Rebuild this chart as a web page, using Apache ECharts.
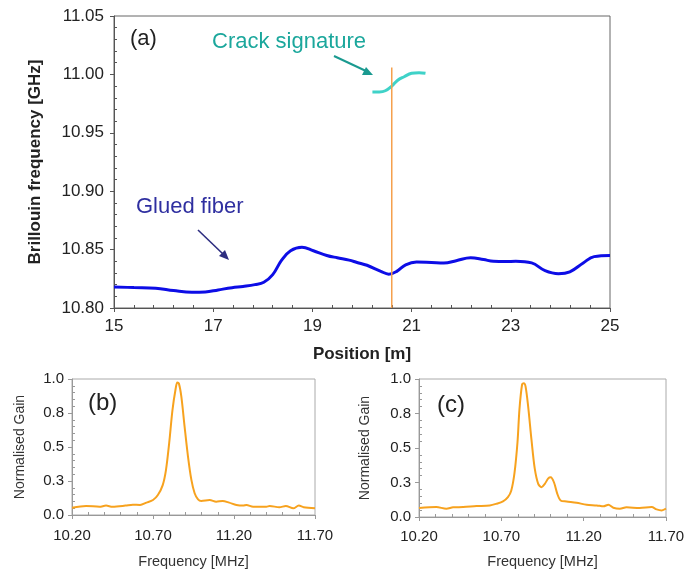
<!DOCTYPE html>
<html>
<head>
    <meta charset="utf-8">
    <title>Brillouin frequency</title>
    <script src="https://cdn.jsdelivr.net/npm/echarts@6/dist/echarts.min.js"></script>
</head>
<body style="margin:0;background:#fff">
    <div id="main" style="width: 700px;height:574px;"></div>
    <script type="text/javascript">
        var myChart = echarts.init(document.getElementById('main'));

// (a) Brillouin frequency along the fibre
var gluedPos  = [15.0, 15.4, 15.84, 16.2, 16.57, 16.84, 17.1, 17.38, 17.6, 17.84, 18.02, 18.2, 18.38, 18.56, 18.79, 19.02, 19.29, 19.5, 19.74, 19.9, 20.1, 20.38, 20.54, 20.7, 20.88, 21.1, 21.4, 21.65, 21.9, 22.19, 22.45, 22.65, 22.9, 23.1, 23.42, 23.69, 23.96, 24.19, 24.46, 24.68, 25.0];
var gluedFreq = [10.818, 10.8175, 10.817, 10.815, 10.8135, 10.8137, 10.8155, 10.8174, 10.8185, 10.820, 10.822, 10.8286, 10.841, 10.849, 10.852, 10.849, 10.845, 10.843, 10.841, 10.839, 10.8366, 10.8314, 10.829, 10.8314, 10.837, 10.8394, 10.839, 10.8386, 10.8405, 10.843, 10.8415, 10.840, 10.8398, 10.840, 10.8386, 10.832, 10.8294, 10.831, 10.8386, 10.844, 10.845];
var crackPos  = [20.21, 20.35, 20.47, 20.6, 20.72, 20.85, 21.0, 21.15, 21.28];
var crackFreq = [10.985, 10.985, 10.986, 10.990, 10.995, 10.998, 11.001, 11.0015, 11.001];
var markerPos = 20.6;

// (b) and (c) gain spectra
var freqB = [10.20, 10.287, 10.37, 10.41, 10.45, 10.53, 10.575, 10.62, 10.66, 10.70, 10.73, 10.76, 10.78, 10.80, 10.82, 10.84, 10.85, 10.86, 10.875, 10.895, 10.916, 10.937, 10.957, 10.978, 10.998, 11.05, 11.09, 11.13, 11.17, 11.215, 11.256, 11.277, 11.318, 11.40, 11.42, 11.48, 11.52, 11.566, 11.60, 11.63, 11.70];
var gainB = [0.054, 0.066, 0.061, 0.069, 0.061, 0.069, 0.076, 0.074, 0.091, 0.11, 0.147, 0.22, 0.33, 0.53, 0.77, 0.93, 0.975, 0.966, 0.87, 0.65, 0.43, 0.258, 0.16, 0.115, 0.103, 0.11, 0.098, 0.103, 0.091, 0.074, 0.069, 0.074, 0.061, 0.061, 0.066, 0.057, 0.066, 0.049, 0.069, 0.057, 0.049];
var freqC = [10.20, 10.305, 10.366, 10.407, 10.468, 10.549, 10.63, 10.67, 10.71, 10.74, 10.76, 10.78, 10.798, 10.81, 10.826, 10.836, 10.847, 10.863, 10.883, 10.903, 10.924, 10.944, 10.964, 10.985, 11.0, 11.02, 11.04, 11.06, 11.096, 11.157, 11.218, 11.28, 11.32, 11.35, 11.38, 11.42, 11.46, 11.54, 11.613, 11.643, 11.674, 11.70];
var gainC = [0.065, 0.072, 0.06, 0.07, 0.072, 0.079, 0.084, 0.096, 0.113, 0.144, 0.19, 0.32, 0.54, 0.78, 0.96, 0.97, 0.947, 0.80, 0.56, 0.35, 0.24, 0.216, 0.24, 0.28, 0.288, 0.25, 0.168, 0.12, 0.113, 0.103, 0.089, 0.084, 0.077, 0.089, 0.067, 0.06, 0.07, 0.065, 0.072, 0.055, 0.048, 0.06];

function zip(xs, ys) {
    return xs.map(function (x, i) { return [x, ys[i]]; });
}

var FONT = 'Liberation Sans, Arial, sans-serif';

// main axis (labels, outside major ticks) + overlay axis (inside minor ticks)
function mainAxis(grid, pos, min, max, interval, digits, size, margin, color, name, nameOpt) {
    return Object.assign({
        type: 'value', gridIndex: grid, position: pos, min: min, max: max, interval: interval,
        name: name, nameLocation: 'middle',
        axisLine: { lineStyle: { color: color } },
        axisTick: { inside: false, length: 4, lineStyle: { color: color } },
        splitLine: { show: false },
        axisLabel: {
            fontFamily: FONT, fontSize: size, color: '#222', margin: margin,
            formatter: function (v) { return v.toFixed(digits); }
        }
    }, nameOpt);
}
function minorAxis(grid, pos, min, max, interval, color) {
    return {
        type: 'value', gridIndex: grid, position: pos, min: min, max: max, interval: interval,
        axisLine: { show: false },
        axisTick: { show: false, inside: true },
        axisLabel: { show: false },
        splitLine: { show: false },
        minorTick: { show: true, splitNumber: 5, length: 3, lineStyle: { color: color } }
    };
}

option = {
    backgroundColor: '#fff',
    animation: false,
    grid: [
        { left: 114, right: 90, top: 16, bottom: 266, show: true, borderColor: '#666', borderWidth: 1 },
        { left: 72, width: 243, top: 379, height: 136, show: true, borderColor: '#aaa', borderWidth: 1 },
        { left: 419, width: 247, top: 379, height: 138, show: true, borderColor: '#aaa', borderWidth: 1 }
    ],
    xAxis: [
        mainAxis(0, 'bottom', 15, 25, 2, 0, 17, 10, '#555', 'Position [m]', {
            nameGap: 38, nameTextStyle: { fontFamily: FONT, fontSize: 17, fontWeight: 'bold', color: '#222' }
        }),
        minorAxis(0, 'bottom', 15, 25, 2, '#555'),
        mainAxis(1, 'bottom', 10.2, 11.7, 0.5, 2, 15, 13, '#999', 'Frequency [MHz]', {
            nameGap: 39, nameTextStyle: { fontFamily: FONT, fontSize: 14.5, color: '#333' }
        }),
        minorAxis(1, 'bottom', 10.2, 11.7, 0.5, '#999'),
        mainAxis(2, 'bottom', 10.2, 11.7, 0.5, 2, 15, 12, '#999', 'Frequency [MHz]', {
            nameGap: 37, nameTextStyle: { fontFamily: FONT, fontSize: 14.5, color: '#333' }
        }),
        minorAxis(2, 'bottom', 10.2, 11.7, 0.5, '#999')
    ],
    yAxis: [
        mainAxis(0, 'left', 10.8, 11.05, 0.05, 2, 17, 10, '#555', 'Brillouin frequency [GHz]', {
            nameGap: 70, nameTextStyle: { fontFamily: FONT, fontSize: 17, fontWeight: 'bold', color: '#222' }
        }),
        minorAxis(0, 'left', 10.8, 11.05, 0.05, '#555'),
        mainAxis(1, 'left', 0, 1, 0.25, 1, 15, 8, '#999', 'Normalised Gain', {
            nameGap: 45, nameTextStyle: { fontFamily: FONT, fontSize: 14, color: '#333' }
        }),
        minorAxis(1, 'left', 0, 1, 0.25, '#999'),
        mainAxis(2, 'left', 0, 1, 0.25, 1, 15, 8, '#999', 'Normalised Gain', {
            nameGap: 47, nameTextStyle: { fontFamily: FONT, fontSize: 14, color: '#333' }
        }),
        minorAxis(2, 'left', 0, 1, 0.25, '#999')
    ],
    graphic: [
        { type: 'text', left: 130, top: 28, style: { text: '(a)', font: '22px ' + FONT, fill: '#222' } },
        { type: 'text', left: 88, top: 391, style: { text: '(b)', font: '24px ' + FONT, fill: '#222' } },
        { type: 'text', left: 437, top: 393, style: { text: '(c)', font: '24px ' + FONT, fill: '#222' } },
        { type: 'text', left: 212, top: 31, style: { text: 'Crack signature', font: '22px ' + FONT, fill: '#1ba79c' } },
        { type: 'text', left: 136, top: 196, style: { text: 'Glued fiber', font: '22px ' + FONT, fill: '#2f2fa0' } },
        { type: 'line', shape: { x1: 334, y1: 56, x2: 366, y2: 71 }, style: { stroke: '#1a9a90', lineWidth: 2 } },
        { type: 'polygon', shape: { points: [[373, 75], [362, 75], [366, 67]] }, style: { fill: '#1a9a90' } },
        { type: 'line', shape: { x1: 198, y1: 230, x2: 223, y2: 254 }, style: { stroke: '#2d2d80', lineWidth: 1.6 } },
        { type: 'polygon', shape: { points: [[229, 260], [219, 256], [225, 250]] }, style: { fill: '#2d2d80' } }
    ],
    series: [{
        type: 'line', xAxisIndex: 0, yAxisIndex: 0, smooth: 0.4, symbol: 'none', z: 3,
        lineStyle: { color: '#0d0de6', width: 3 },
        data: zip(gluedPos, gluedFreq)
    }, {
        type: 'line', xAxisIndex: 0, yAxisIndex: 0, smooth: 0.4, symbol: 'none', z: 3,
        lineStyle: { color: '#3fd2c8', width: 3 },
        data: zip(crackPos, crackFreq)
    }, {
        type: 'line', xAxisIndex: 0, yAxisIndex: 0, symbol: 'none', z: 4,
        lineStyle: { color: '#f5a04c', width: 1.5 },
        data: [[markerPos, 10.8], [markerPos, 11.006]]
    }, {
        type: 'line', xAxisIndex: 2, yAxisIndex: 2, smooth: 0.3, symbol: 'none',
        lineStyle: { color: '#f7a21e', width: 2 },
        data: zip(freqB, gainB)
    }, {
        type: 'line', xAxisIndex: 4, yAxisIndex: 4, smooth: 0.3, symbol: 'none',
        lineStyle: { color: '#f7a21e', width: 2 },
        data: zip(freqC, gainC)
    }]
};

        myChart.setOption(option);
    </script>
</body>
</html>
